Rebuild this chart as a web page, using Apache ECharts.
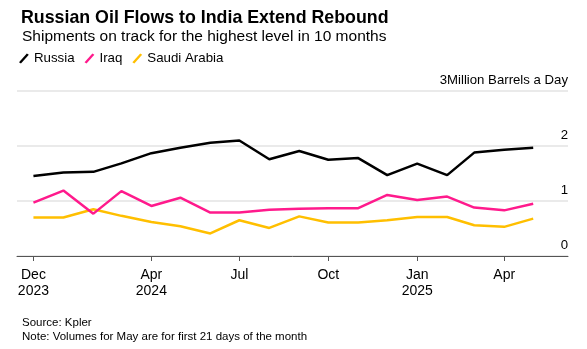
<!DOCTYPE html>
<html>
<head>
<meta charset="utf-8">
<script src="https://cdn.jsdelivr.net/npm/echarts@6/dist/echarts.min.js"></script>
<style>
  html, body { margin: 0; padding: 0; background: #fff; }
  #chart { width: 587px; height: 349px; }
</style>
</head>
<body>
<div id="chart"></div>
<script>
// Monthly shipments to India, million barrels a day
var months = ['2023-12-01','2024-01-01','2024-02-01','2024-03-01','2024-04-01','2024-05-01',
              '2024-06-01','2024-07-01','2024-08-01','2024-09-01','2024-10-01','2024-11-01',
              '2024-12-01','2025-01-01','2025-02-01','2025-03-01','2025-04-01','2025-05-01'];
var russia = [1.455,1.52,1.53,1.685,1.87,1.97,2.06,2.10,1.76,1.91,1.75,1.78,1.47,1.68,1.47,1.88,1.93,1.97];
var iraq   = [0.97,1.19,0.77,1.18,0.91,1.06,0.79,0.79,0.84,0.86,0.87,0.87,1.11,1.02,1.08,0.88,0.83,0.95];
var saudi  = [0.70,0.70,0.85,0.73,0.62,0.54,0.41,0.65,0.51,0.72,0.61,0.61,0.65,0.71,0.71,0.56,0.53,0.68];

// x-axis tick positions and their labels
var tickDates  = ['2023-12-01','2024-04-01','2024-07-01','2024-10-01','2025-01-01','2025-04-01'];
var tickLabels = ['Dec\n2023','Apr\n2024','Jul','Oct','Jan\n2025','Apr'];
var yTicks = [0, 1, 2, 3];
var unitLabel = 'Million Barrels a Day';

function ts(d) { return Date.UTC(+d.slice(0, 4), +d.slice(5, 7) - 1, +d.slice(8, 10)); }
var tickTimes = tickDates.map(ts);
function pair(vals) {
  return months.map(function (m, i) { return [ts(m), vals[i]]; });
}

var FONT = '"Liberation Sans", Arial, Helvetica, sans-serif';
var slash = 'path://M0,9 L8,0 L10,1.2 L2,10.2 Z';

var chart = echarts.init(document.getElementById('chart'), null, { renderer: 'canvas' });
chart.setOption({
  animation: false,
  backgroundColor: '#fff',
  textStyle: { fontFamily: FONT },
  title: [
    { text: 'Russian Oil Flows to India Extend Rebound', left: 16, top: 4,
      textStyle: { fontFamily: FONT, fontSize: 17.8, fontWeight: 'bold', color: '#000' } },
    { text: 'Shipments on track for the highest level in 10 months', left: 17, top: 24,
      textStyle: { fontFamily: FONT, fontSize: 15.5, fontWeight: 'normal', color: '#000' } },
    { text: 'Source: Kpler\nNote: Volumes for May are for first 21 days of the month', left: 17, top: 311,
      textStyle: { fontFamily: FONT, fontSize: 11.5, fontWeight: 'normal', color: '#000', lineHeight: 14 } }
  ],
  legend: {
    left: 14, top: 47,
    itemWidth: 10, itemHeight: 10, itemGap: 10,
    icon: slash,
    textStyle: { fontFamily: FONT, fontSize: 13.3, color: '#000' },
    data: ['Russia', 'Iraq', 'Saudi Arabia']
  },
  grid: { left: 17, right: 19, top: 91, bottom: 93, containLabel: false },
  xAxis: {
    type: 'value',
    min: ts('2023-11-14'),
    max: ts('2025-06-06'),
    axisLine: { show: true, onZero: false, lineStyle: { color: '#555', width: 1 } },
    axisTick: { show: true, customValues: tickTimes, length: 5, lineStyle: { color: '#555' } },
    axisLabel: {
      customValues: tickTimes,
      color: '#000', fontSize: 14, fontFamily: FONT, lineHeight: 16, margin: 11,
      formatter: function (v) {
        var i = tickTimes.indexOf(v);
        return i >= 0 ? tickLabels[i] : '';
      }
    },
    splitLine: { show: false }
  },
  yAxis: {
    type: 'value', position: 'right',
    min: yTicks[0], max: yTicks[yTicks.length - 1], interval: 1,
    axisLine: { show: false }, axisTick: { show: false },
    axisLabel: {
      inside: true, margin: 0, verticalAlign: 'bottom', padding: [0, 0, 4, 0],
      color: '#000', fontSize: 13.2, fontFamily: FONT,
      formatter: function (v) { return v === 3 ? '3' + unitLabel : String(v); }
    },
    splitLine: { lineStyle: { color: '#e3e3e3', width: 1.5 } }
  },
  series: [
    { name: 'Russia', type: 'line', data: pair(russia), showSymbol: false, z: 4,
      itemStyle: { color: '#000' }, lineStyle: { color: '#000', width: 2.5 } },
    { name: 'Iraq', type: 'line', data: pair(iraq), showSymbol: false, z: 3,
      itemStyle: { color: '#ff1a8c' }, lineStyle: { color: '#ff1a8c', width: 2.5 } },
    { name: 'Saudi Arabia', type: 'line', data: pair(saudi), showSymbol: false, z: 2,
      itemStyle: { color: '#ffbf00' }, lineStyle: { color: '#ffbf00', width: 2.5 } }
  ]
});
</script>
</body>
</html>
